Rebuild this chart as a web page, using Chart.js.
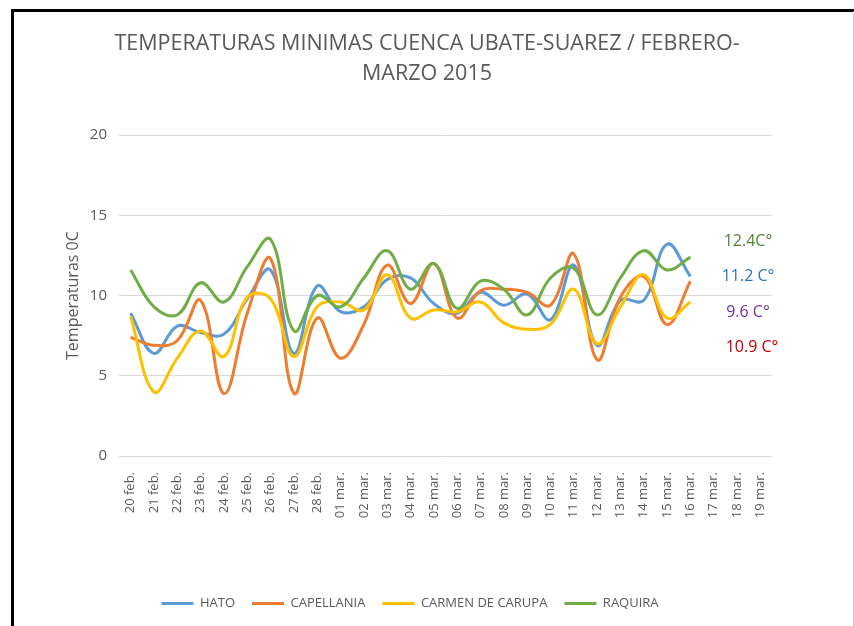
<!DOCTYPE html>
<html>
<head>
<meta charset="utf-8">
<script src="https://cdn.jsdelivr.net/npm/chart.js@4/dist/chart.umd.min.js"></script>
<style>
    body { margin: 0; background: #fff; }
    #wrap { position: relative; width: 854px; height: 626px; }
    #frame {
        position: absolute; left: 11px; top: 9px; width: 839px; height: 620px;
        border-top: 3px solid #000; border-left: 3px solid #000; border-right: 2px solid #d0d0d0;
    }
</style>
</head>
<body>
<div id="wrap">
    <canvas id="tempChart" width="854" height="626"></canvas>
    <div id="frame"></div>
</div>
<script>
// Datos de la gráfica
const labels = ['20 feb.', '21 feb.', '22 feb.', '23 feb.', '24 feb.', '25 feb.', '26 feb.', '27 feb.', '28 feb.',
    '01 mar.', '02 mar.', '03 mar.', '04 mar.', '05 mar.', '06 mar.', '07 mar.', '08 mar.', '09 mar.', '10 mar.',
    '11 mar.', '12 mar.', '13 mar.', '14 mar.', '15 mar.', '16 mar.', '17 mar.', '18 mar.', '19 mar.'];
const hato = [8.9, 6.4, 8.1, 7.7, 7.6, 9.8, 11.6, 6.4, 10.6, 9.0, 9.3, 11.0, 11.1, 9.5, 8.9, 10.2, 9.4, 10.1, 8.5,
    11.9, 6.9, 9.7, 9.7, 13.2, 11.2, null, null, null];
const capellania = [7.4, 6.9, 7.2, 9.7, 3.9, 8.9, 12.3, 3.9, 8.6, 6.1, 8.2, 11.9, 9.5, 12.0, 8.6, 10.3, 10.4, 10.2, 9.4,
    12.6, 6.0, 9.9, 11.2, 8.2, 10.9, null, null, null];
const carmen = [8.7, 4.0, 6.1, 7.8, 6.2, 9.9, 9.8, 6.2, 9.3, 9.6, 9.1, 11.3, 8.6, 9.1, 9.0, 9.6, 8.3, 7.9, 8.2,
    10.4, 7.0, 9.3, 11.3, 8.6, 9.6, null, null, null];
const raquira = [11.6, 9.3, 8.8, 10.8, 9.6, 11.8, 13.5, 7.8, 10.0, 9.3, 11.1, 12.8, 10.4, 12.0, 9.2, 10.9, 10.4, 8.8, 11.1,
    11.7, 8.8, 11.1, 12.8, 11.6, 12.4, null, null, null];

// Textos al lado derecho (último valor de cada estación)
const notes = ['12.4C°', '11.2 C°', '9.6 C°', '10.9 C°'];
const noteColors = ['#548235', '#2e75b6', '#7030a0', '#c00000'];

const gray = '#595959';
const font = 'Open Sans';

function serie(name, data, color, order) {
    return {
        label: name,
        data: data,
        borderColor: color,
        backgroundColor: color,
        borderWidth: 3,
        pointRadius: 0,
        tension: 0.4,
        order: order, // RAQUIRA queda encima, como en Excel
    };
}

// Notas de temperatura a la derecha
const notesPlugin = {
    id: 'notes',
    afterDatasetsDraw(chart) {
        const ctx = chart.ctx;
        const area = chart.chartArea;
        ctx.save();
        ctx.font = '16px "' + font + '"';
        ctx.textAlign = 'center';
        ctx.textBaseline = 'middle';
        notes.forEach((t, i) => {
            ctx.fillStyle = noteColors[i];
            ctx.fillText(t, area.right - 24 + (i === 3 ? 4 : 0), 241 + i * 35.5);
        });
        ctx.restore();
    },
    afterLayout(chart) {
        // la leyenda de Excel queda un poco a la izquierda
        chart.legend.left -= 17;
        chart.legend.right -= 17;
    }
};

const ctx = document.getElementById('tempChart').getContext('2d');
new Chart(ctx, {
    type: 'line',
    data: {
        labels: labels,
        datasets: [
            serie('HATO', hato, '#5b9bd5', 3),
            serie('CAPELLANIA', capellania, '#ed7d31', 2),
            serie('CARMEN DE CARUPA', carmen, '#ffc000', 1),
            serie('RAQUIRA', raquira, '#70ad47', 0),
        ],
    },
    options: {
        responsive: false,
        animation: false,
        layout: { padding: { left: 12, right: 12, top: 12, bottom: 6 } },
        plugins: {
            title: {
                display: true,
                text: ['TEMPERATURAS MINIMAS CUENCA UBATE-SUAREZ / FEBRERO-', 'MARZO 2015'],
                color: gray,
                font: { family: font, size: 21.5, weight: 'normal', lineHeight: 1.4 },
                padding: { top: 17, bottom: 46 },
            },
            legend: {
                position: 'bottom',
                labels: {
                    color: gray,
                    font: { family: font, size: 13 },
                    usePointStyle: true,
                    pointStyle: 'line',
                    pointStyleWidth: 32,
                    boxWidth: 32,
                    boxHeight: 13,
                    padding: 17,
                    sort: (a, b) => a.datasetIndex - b.datasetIndex,
                },
            },
            tooltip: { enabled: false },
        },
        scales: {
            x: {
                offset: true,
                grid: { display: false },
                border: { display: false },
                ticks: {
                    color: gray,
                    font: { family: font, size: 13 },
                    minRotation: 90,
                    maxRotation: 90,
                    autoSkip: false,
                    padding: 8,
                },
                afterFit: function (scale) { scale.height = 124; },
            },
            y: {
                min: 0,
                max: 20,
                ticks: {
                    stepSize: 5,
                    color: gray,
                    font: { family: font, size: 15 },
                    padding: 12,
                },
                grid: { color: '#d9d9d9', lineWidth: 1, drawTicks: false },
                border: { display: false },
                title: {
                    display: true,
                    text: 'Temperaturas 0C',
                    color: gray,
                    font: { family: font, size: 16 },
                    padding: { top: 52, bottom: 0 },
                },
                afterFit: function (scale) { scale.width = 107; },
            },
            y2: {
                position: 'right',
                grid: { display: false },
                border: { display: false },
                ticks: { display: false },
                afterFit: function (scale) { scale.width = 70; },
            },
        },
    },
    plugins: [notesPlugin],
});
</script>
</body>
</html>
